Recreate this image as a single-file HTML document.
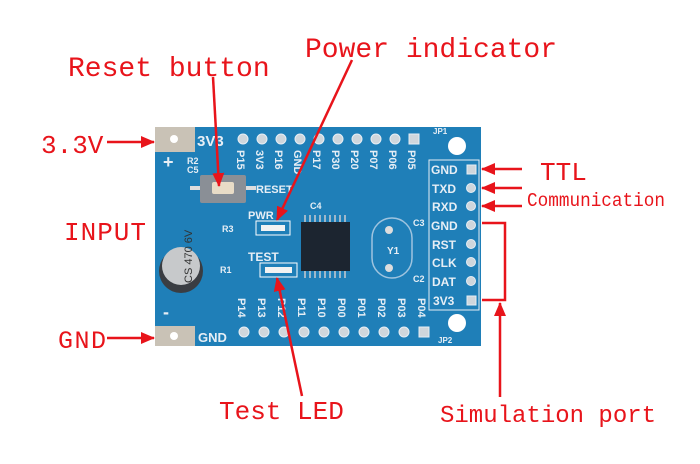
<!DOCTYPE html>
<html><head><meta charset="utf-8"><style>
html,body{margin:0;padding:0;background:#fff;}
svg{display:block;}
.lbl{font-family:"Liberation Mono",monospace;fill:#e8141b;}
.pcb{font-family:"Liberation Sans",sans-serif;font-weight:bold;fill:#e6eef5;}
</style></head><body>
<svg width="700" height="464" viewBox="0 0 700 464" xmlns="http://www.w3.org/2000/svg">
<defs>
<marker id="ah" markerWidth="10" markerHeight="8" refX="9" refY="4" orient="auto" markerUnits="userSpaceOnUse">
<path d="M0,0 L10,4 L0,8 z" fill="#e8141b"/></marker>
<marker id="ah2" markerWidth="14" markerHeight="12" refX="13" refY="6" orient="auto" markerUnits="userSpaceOnUse">
<path d="M0,0 L14,6 L0,12 z" fill="#e8141b"/></marker>
</defs>
<rect width="700" height="464" fill="#fff"/>
<!-- board -->
<rect x="155" y="127" width="326" height="219" fill="#1f7fb8"/>
<rect x="155" y="127" width="40" height="25" fill="#c9c2b6"/>
<circle cx="174" cy="139" r="4" fill="#fff"/>
<rect x="155" y="326" width="40" height="20" fill="#c9c2b6"/>
<circle cx="174" cy="336" r="4" fill="#fff"/>
<text class="pcb" x="197" y="146" font-size="15">3V3</text>
<text class="pcb" x="198" y="342" font-size="13">GND</text>
<text class="pcb" x="163" y="168" font-size="18">+</text>
<text class="pcb" x="163" y="318" font-size="18">-</text>
<text class="pcb" x="187" y="164" font-size="9">R2</text>
<text class="pcb" x="187" y="173" font-size="9">C5</text>
<!-- top header -->
<g fill="#cfd6dc" stroke="#e6eef5" stroke-width="1">
<circle cx="243" cy="139" r="5"/><circle cx="262" cy="139" r="5"/><circle cx="281" cy="139" r="5"/><circle cx="300" cy="139" r="5"/><circle cx="319" cy="139" r="5"/><circle cx="338" cy="139" r="5"/><circle cx="357" cy="139" r="5"/><circle cx="376" cy="139" r="5"/><circle cx="395" cy="139" r="5"/><rect x="409" y="134" width="10" height="10"/>
</g>
<g class="pcb" font-size="11">
<text transform="translate(237,150) rotate(90)">P15</text>
<text transform="translate(256,150) rotate(90)">3V3</text>
<text transform="translate(275,150) rotate(90)">P16</text>
<text transform="translate(294,150) rotate(90)">GND</text>
<text transform="translate(313,150) rotate(90)">P17</text>
<text transform="translate(332,150) rotate(90)">P30</text>
<text transform="translate(351,150) rotate(90)">P20</text>
<text transform="translate(370,150) rotate(90)">P07</text>
<text transform="translate(389,150) rotate(90)">P06</text>
<text transform="translate(408,150) rotate(90)">P05</text>
</g>
<!-- bottom header -->
<g fill="#cfd6dc" stroke="#e6eef5" stroke-width="1">
<circle cx="244" cy="332" r="5"/><circle cx="264" cy="332" r="5"/><circle cx="284" cy="332" r="5"/><circle cx="304" cy="332" r="5"/><circle cx="324" cy="332" r="5"/><circle cx="344" cy="332" r="5"/><circle cx="364" cy="332" r="5"/><circle cx="384" cy="332" r="5"/><circle cx="404" cy="332" r="5"/><rect x="419" y="327" width="10" height="10"/>
</g>
<g class="pcb" font-size="11">
<text transform="translate(238,298) rotate(90)">P14</text>
<text transform="translate(258,298) rotate(90)">P13</text>
<text transform="translate(278,298) rotate(90)">P12</text>
<text transform="translate(298,298) rotate(90)">P11</text>
<text transform="translate(318,298) rotate(90)">P10</text>
<text transform="translate(338,298) rotate(90)">P00</text>
<text transform="translate(358,298) rotate(90)">P01</text>
<text transform="translate(378,298) rotate(90)">P02</text>
<text transform="translate(398,298) rotate(90)">P03</text>
<text transform="translate(418,298) rotate(90)">P04</text>
</g>
<!-- right header -->
<g fill="#cfd6dc" stroke="#e6eef5" stroke-width="1">
<rect x="467" y="165" width="9" height="9"/>
<circle cx="471" cy="188" r="4.5"/><circle cx="471" cy="206" r="4.5"/><circle cx="471" cy="225" r="4.5"/><circle cx="471" cy="244" r="4.5"/><circle cx="471" cy="262" r="4.5"/><circle cx="471" cy="281" r="4.5"/>
<rect x="467" y="296" width="9" height="9"/>
</g>
<g fill="none" stroke="#e6eef5" stroke-width="1">
<rect x="429" y="160" width="50" height="150"/>
</g>
<g class="pcb" font-size="12">
<text x="431" y="174">GND</text><text x="432" y="193">TXD</text><text x="432" y="211">RXD</text><text x="431" y="230">GND</text>
<text x="432" y="249">RST</text><text x="432" y="267">CLK</text><text x="432" y="286">DAT</text><text x="433" y="305">3V3</text>
</g>
<circle cx="457" cy="146" r="9" fill="#fff"/>
<circle cx="457" cy="323" r="9" fill="#fff"/>
<text class="pcb" x="433" y="134" font-size="8">JP1</text>
<text class="pcb" x="438" y="343" font-size="8">JP2</text>
<!-- reset button -->
<rect x="200" y="175" width="46" height="28" rx="2" fill="#8a8f96"/>
<rect x="212" y="182" width="22" height="12" rx="2" fill="#e8dcc7"/>
<rect x="190" y="186" width="10" height="4" fill="#ddd"/><rect x="246" y="186" width="10" height="4" fill="#ddd"/>
<text class="pcb" x="256" y="193" font-size="11">RESET</text>
<!-- LEDs -->
<text class="pcb" x="248" y="219" font-size="11">PWR</text>
<rect x="256" y="221" width="34" height="14" fill="none" stroke="#fff"/>
<rect x="261" y="225" width="24" height="6" fill="#f2f2f2"/>
<text class="pcb" x="222" y="232" font-size="9">R3</text>
<text class="pcb" x="248" y="261" font-size="12">TEST</text>
<rect x="260" y="263" width="37" height="14" fill="none" stroke="#fff"/>
<rect x="265" y="267" width="27" height="6" fill="#f2f2f2"/>
<text class="pcb" x="220" y="273" font-size="9">R1</text>
<text class="pcb" x="310" y="209" font-size="9">C4</text>
<!-- chip -->
<g stroke="#c9ccd0" stroke-width="1.5">
<path d="M305,215 v8 M310,215 v8 M315,215 v8 M320,215 v8 M325,215 v8 M330,215 v8 M335,215 v8 M340,215 v8 M345,215 v8 M305,270 v8 M310,270 v8 M315,270 v8 M320,270 v8 M325,270 v8 M330,270 v8 M335,270 v8 M340,270 v8 M345,270 v8"/>
</g>
<rect x="301" y="222" width="49" height="49" fill="#1c2530"/>
<!-- crystal -->
<rect x="372" y="218" width="40" height="60" rx="20" fill="none" stroke="#9fc4df" stroke-width="1.5"/>
<circle cx="389" cy="230" r="4" fill="#ddd"/><circle cx="389" cy="268" r="4" fill="#ddd"/>
<text class="pcb" x="387" y="254" font-size="10">Y1</text>
<text class="pcb" x="413" y="226" font-size="9">C3</text>
<text class="pcb" x="413" y="282" font-size="9">C2</text>
<!-- capacitor -->
<circle cx="181" cy="271" r="22" fill="#3a3d42"/>
<circle cx="181" cy="266" r="19" fill="#c7c9cb"/>
<text x="168" y="281" font-family="Liberation Sans,sans-serif" font-size="11" fill="#333" transform="rotate(-90 181 270)">CS 470 6V</text>
<!-- labels -->
<g class="lbl">
<text x="68" y="76" font-size="28">Reset button</text>
<text x="305" y="57" font-size="28">Power indicator</text>
<text x="41" y="153" font-size="26">3.3V</text>
<text x="64" y="240" font-size="26" textLength="82">INPUT</text>
<text x="58" y="348" font-size="25" textLength="48">GND</text>
<text x="219" y="419" font-size="26">Test LED</text>
<text x="440" y="422" font-size="24">Simulation port</text>
<text x="540" y="180" font-size="26">TTL</text>
<text x="527" y="206" font-size="19" textLength="138" lengthAdjust="spacingAndGlyphs">Communication</text>
</g>
<g stroke="#e8141b" stroke-width="2.5" fill="none">
<line x1="107" y1="142" x2="154" y2="142" marker-end="url(#ah2)"/>
<line x1="107" y1="338" x2="154" y2="338" marker-end="url(#ah2)"/>
<line x1="213" y1="77" x2="219" y2="186" marker-end="url(#ah2)"/>
<line x1="352" y1="60" x2="277" y2="220" marker-end="url(#ah2)"/>
<line x1="302" y1="396" x2="277" y2="278" marker-end="url(#ah2)"/>
<line x1="522" y1="169" x2="482" y2="169" marker-end="url(#ah2)"/>
<line x1="522" y1="188" x2="482" y2="188" marker-end="url(#ah2)"/>
<line x1="522" y1="206" x2="482" y2="206" marker-end="url(#ah2)"/>
<polyline points="482,223 505,223 505,300 482,300"/>
<line x1="500" y1="397" x2="500" y2="303" marker-end="url(#ah2)"/>
</g>
</svg>
</body></html>
